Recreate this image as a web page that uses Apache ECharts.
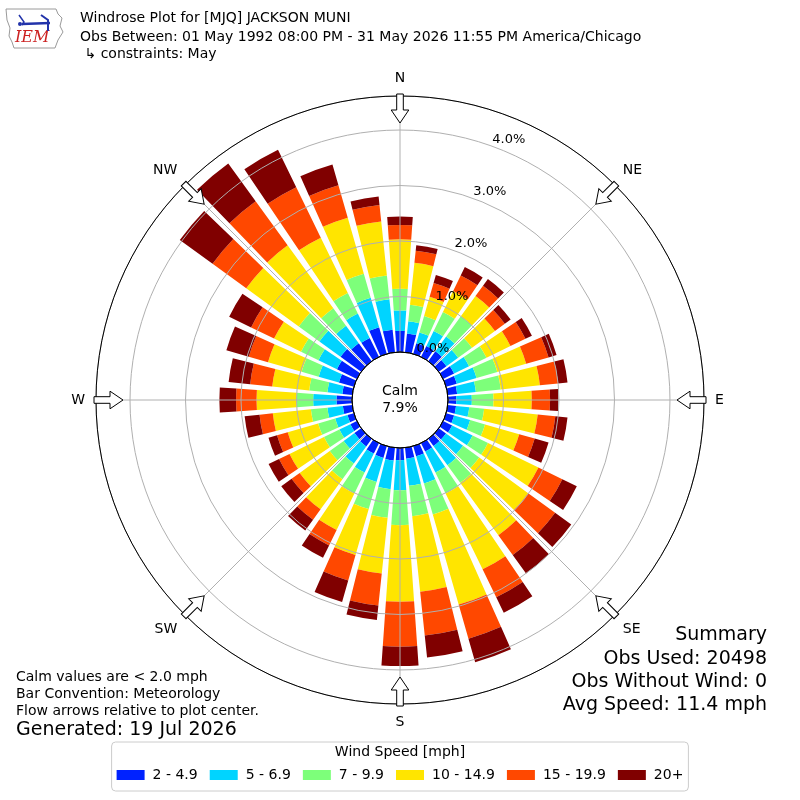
<!DOCTYPE html>
<html><head><meta charset="utf-8">
<script src="https://cdn.jsdelivr.net/npm/echarts@6/dist/echarts.min.js"></script>
<style>html,body{margin:0;padding:0;background:#fff}#c{width:800px;height:800px}</style>
</head><body><div id="c"></div>
<script>
// ---- data (percent of all observations, per 10-degree direction bin) ----
const directions = ['0','10','20','30','40','50','60','70','80','90','100','110','120','130','140','150','160','170',
                    '180','190','200','210','220','230','240','250','260','270','280','290','300','310','320','330','340','350'];
const speedBins = ['2 - 4.9','5 - 6.9','7 - 9.9','10 - 14.9','15 - 19.9','20+'];
const spd2to5   = [0.38,0.34,0.20,0.22,0.22,0.17,0.22,0.20,0.17,0.15,0.15,0.15,0.18,0.16,0.16,0.17,0.19,0.20,
                   0.22,0.23,0.22,0.21,0.17,0.15,0.13,0.12,0.17,0.28,0.18,0.28,0.40,0.46,0.40,0.38,0.50,0.41];
const spd5to7   = [0.37,0.22,0.20,0.30,0.33,0.26,0.30,0.37,0.34,0.28,0.24,0.30,0.41,0.38,0.43,0.42,0.51,0.49,
                   0.54,0.52,0.45,0.38,0.38,0.24,0.22,0.23,0.28,0.42,0.27,0.38,0.37,0.47,0.39,0.49,0.55,0.55];
const spd7to10  = [0.39,0.30,0.31,0.38,0.45,0.31,0.35,0.39,0.45,0.39,0.27,0.28,0.31,0.36,0.39,0.42,0.58,0.55,
                   0.63,0.52,0.51,0.42,0.35,0.31,0.31,0.32,0.30,0.30,0.33,0.32,0.35,0.46,0.39,0.41,0.45,0.43];
const spd10to15 = [0.89,0.76,0.36,0.42,0.45,0.51,0.48,0.54,0.71,0.69,0.97,0.64,1.01,1.09,1.17,1.52,1.69,1.37,
                   1.38,1.01,0.86,0.73,0.67,0.67,0.69,0.57,0.69,0.72,0.67,0.63,0.54,1.17,1.40,1.11,1.05,0.98];
const spd15to20 = [0.26,0.22,0.26,0.31,0.23,0.22,0.30,0.42,0.33,0.33,0.32,0.29,0.48,0.60,0.44,0.56,0.64,0.79,
                   0.81,0.58,0.48,0.31,0.23,0.18,0.21,0.20,0.24,0.37,0.40,0.36,0.46,0.75,0.98,1.01,0.61,0.30];
const spd20plus = [0.15,0.10,0.15,0.17,0.15,0.13,0.13,0.15,0.17,0.15,0.22,0.26,0.29,0.36,0.41,0.31,0.44,0.40,
                   0.35,0.26,0.40,0.25,0.24,0.23,0.21,0.16,0.27,0.30,0.39,0.42,0.44,0.73,0.84,0.75,0.39,0.15];
const radialTicks = [0, 1, 2, 3, 4];
const compassLabels = ['N','NE','E','SE','S','SW','W','NW'];
const calmPct = 7.9;
const summaryLines = ['Summary','Obs Used: 20498','Obs Without Wind: 0','Avg Speed: 11.4 mph'];
const noteLines = ['Calm values are < 2.0 mph','Bar Convention: Meteorology','Flow arrows relative to plot center.'];
const titleLines = ['Windrose Plot for [MJQ] JACKSON MUNI',
  'Obs Between: 01 May 1992 08:00 PM - 31 May 2026 11:55 PM America/Chicago',
  ' \u21B3 constraints: May'];
const generatedText = 'Generated: 19 Jul 2026';
const legendTitle = 'Wind Speed [mph]';

// ---- styling ----
const binColors = ['#0022ff','#00d4ff','#7dff7a','#ffe500','#ff4800','#800000'];
const FONT = 'DejaVu Sans';
const CX = 400, CY = 400, R_IN = 48, R_OUT = 304;
const rMax = 4.613;
const seriesData = [spd2to5, spd5to7, spd7to10, spd10to15, spd15to20, spd20plus];

const chart = echarts.init(document.getElementById('c'), null, {renderer:'canvas'});

// arrows (decorations) at the eight compass points, pointing to the centre
const arrowPts = [[-3.3,-14.5],[3.3,-14.5],[3.3,1.5],[8.8,1.5],[0,14.5],[-8.8,1.5],[-3.3,1.5]];
const arrows = compassLabels.map((_, i) => {
  const a = i * 45 * Math.PI / 180, rr = 291.5;
  return {type:'polygon', x: CX + rr*Math.sin(a), y: CY - rr*Math.cos(a), rotation: -a, z: 20,
    shape:{points: arrowPts}, style:{fill:'#fff', stroke:'#000', lineWidth:1}};
});

const txt = (x, y, text, size, align, extra) => Object.assign({type:'text', x, y, z: 20,
  style:{text, font: size + 'px "' + FONT + '"', fill:'#000', align: align || 'left', verticalAlign:'middle'}}, extra || {});

const graphics = [].concat(arrows, [
  // IEM logo (approximate)
  {type:'polyline', z:20, shape:{points:[[6,9],[56,9],[58,14],[62,18],[60,26],[63,32],[58,40],[55,48],[14,48],[12,42],[9,36],[10,28],[7,20],[6,9]]},
    style:{stroke:'#9a9a9a', lineWidth:1, fill:'none'}},
  {type:'polyline', z:21, shape:{points:[[19,15],[24,22],[22,25]]}, style:{stroke:'#2233aa', lineWidth:1.5, fill:'none'}},
  {type:'polyline', z:21, shape:{points:[[22,24],[50,23]]}, style:{stroke:'#2233aa', lineWidth:2.5, fill:'none'}},
  {type:'polyline', z:21, shape:{points:[[41,15],[48,20],[48,31]]}, style:{stroke:'#2233aa', lineWidth:2, fill:'none'}},
  {type:'circle', z:21, shape:{cx:20,cy:24,r:2}, style:{fill:'#2233aa'}},
  txt(15, 38, 'IEM', 16, 'left', {style:{text:'IEM', font:'italic 16px "DejaVu Serif"', fill:'#cc2222', align:'left', verticalAlign:'middle'}}),
  txt(80, 18, titleLines[0], 14),
  txt(80, 37, titleLines[1], 14),
  txt(80, 54, titleLines[2], 14),
  txt(400, 391, 'Calm', 14, 'center'),
  txt(400, 408, calmPct.toFixed(1) + '%', 14, 'center'),
  txt(16, 677, noteLines[0], 14),
  txt(16, 694, noteLines[1], 14),
  txt(16, 711, noteLines[2], 14),
  txt(16, 730, generatedText, 19),
  txt(767, 635, summaryLines[0], 19, 'right'),
  txt(767, 659, summaryLines[1], 19, 'right'),
  txt(767, 682, summaryLines[2], 19, 'right'),
  txt(767, 705, summaryLines[3], 19, 'right'),
  txt(400, 752, legendTitle, 14, 'center')
]);

const hidden = {axisLine:{show:false}, axisTick:{show:false}, axisLabel:{show:false}, splitLine:{show:false}};

const option = {
  backgroundColor:'#fff',
  animation:false,
  polar:[
    {center:[CX, CY], radius:[R_IN, R_OUT]},   // bars
    {center:[CX, CY], radius:[R_IN, R_OUT]},   // grid, spokes, compass labels
    {center:[CX, CY], radius:[R_IN, R_OUT]},   // percent labels
    {center:[CX, CY], radius:[0, R_IN]}        // calm circle
  ],
  angleAxis:[
    Object.assign({polarIndex:0, type:'category', data:directions, startAngle:95, clockwise:true}, hidden),
    {polarIndex:1, type:'value', min:0, max:360, interval:45, startAngle:90, clockwise:true, z:10,
      axisLine:{show:true, lineStyle:{color:'#000', width:1}}, axisTick:{show:false},
      splitLine:{show:true, lineStyle:{color:'#b0b0b0', width:1}},
      axisLabel:{show:true, margin:11, color:'#000', fontSize:14, fontFamily:FONT,
        formatter: v => (v < 360) ? compassLabels[v/45] : ''}},
    Object.assign({polarIndex:2, type:'value', min:0, max:360, startAngle:70, clockwise:true}, hidden),
    {polarIndex:3, type:'value', min:0, max:360, startAngle:90, z:10,
      axisLine:{show:true, lineStyle:{color:'#000', width:1}}, axisTick:{show:false}, axisLabel:{show:false}, splitLine:{show:false}}
  ],
  radiusAxis:[
    Object.assign({polarIndex:0, type:'value', min:0, max:rMax}, hidden),
    {polarIndex:1, type:'value', min:0, max:rMax, interval:1, z:10,
      axisLine:{show:false}, axisTick:{show:false}, axisLabel:{show:false},
      splitLine:{show:true, lineStyle:{color:'#b0b0b0', width:1}}},
    {polarIndex:2, type:'value', min:radialTicks[0], max:rMax, interval:radialTicks[1]-radialTicks[0], z:11,
      axisLine:{show:false}, axisTick:{show:false}, splitLine:{show:false},
      axisLabel:{show:true, showMaxLabel:false, margin:0, align:'left', verticalAlign:'bottom',
        color:'#000', fontSize:13, fontFamily:FONT,
        formatter: v => radialTicks.indexOf(v) >= 0 ? v.toFixed(1) + '%' : ''}},
    Object.assign({polarIndex:3, type:'value', min:0, max:1}, hidden)
  ],
  legend:{
    data: speedBins, top:742, left:'center', orient:'horizontal',
    padding:[26,5,9,5], itemGap:12, itemWidth:28, itemHeight:10, icon:'rect',
    borderColor:'#cccccc', borderWidth:1, borderRadius:4,
    textStyle:{color:'#000', fontSize:14, fontFamily:FONT, padding:[0,0,0,3]}
  },
  series: speedBins.map((name, i) => ({
    name, type:'bar', coordinateSystem:'polar', polarIndex:0, stack:'wind',
    barWidth:'80%', data: seriesData[i], silent:true, z:2,
    itemStyle:{color: binColors[i]}
  })),
  graphic: graphics
};
chart.setOption(option);
</script>
</body></html>
